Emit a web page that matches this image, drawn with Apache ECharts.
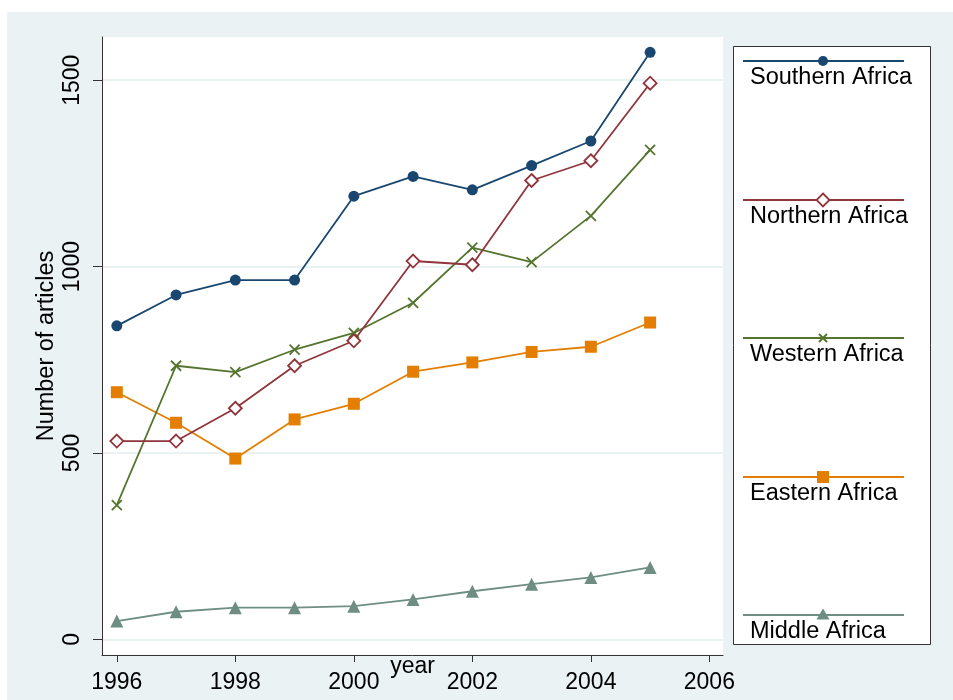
<!DOCTYPE html>
<html><head><meta charset="utf-8">
<script src="https://cdn.jsdelivr.net/npm/echarts@6/dist/echarts.min.js"></script>
<style>html,body{margin:0;padding:0;background:#fff}#c{width:953px;height:700px}</style>
</head><body><div id="c"></div>
<script>
const years = [1996,1997,1998,1999,2000,2001,2002,2003,2004,2005];
const southern = [841,924,964,964,1189,1242,1206,1271,1337,1575];
const northern = [532,532,620,734,801,1015,1005,1231,1284,1492];
const western  = [360,734,717,777,822,903,1051,1012,1136,1313];
const eastern  = [663,581,485,590,632,718,743,771,785,850];
const middle   = [49,74,85,85,89,107,129,148,166,193];
const seriesNames = ['Southern Africa','Northern Africa','Western Africa','Eastern Africa','Middle Africa'];
const xTicks = [1996,1998,2000,2002,2004,2006];
const yTicks = [0,500,1000,1500];

const colors = ['#1a476f','#90353b','#55752f','#e37e00','#6e8e84'];
const crossPath = 'path://M0,0L10,10M10,0L0,10';
const symbols = ['circle','diamond',crossPath,'rect','triangle'];
const symSizes = [11,13,10,12,13];
const dataSets = [southern,northern,western,eastern,middle];
const FONT = 'Liberation Sans, Arial, sans-serif';

const series = dataSets.map((d,i)=>{
  const s = {
    name: seriesNames[i], type:'line', data: years.map((y,k)=>[y,d[k]]),
    symbol: symbols[i], symbolSize: symSizes[i], showSymbol:true,
    lineStyle:{color:colors[i], width:1.8},
    itemStyle:{color:colors[i]}, animation:false, z: 10-i
  };
  if (i===1) s.itemStyle = {color:'#fff', borderColor:colors[i], borderWidth:1.8};
  if (i===2) s.itemStyle = {color:'none', borderColor:colors[i], borderWidth:1.8};
  return s;
});

// legend graphic
const legendG = [];
legendG.push({type:'rect', shape:{x:733.5,y:46.5,width:197,height:598}, style:{fill:'#fff', stroke:'#333', lineWidth:1}, z:1});
const lineYs = [61,200,338,477,615];
seriesNames.forEach((n,i)=>{
  const ly = lineYs[i];
  legendG.push({type:'line', shape:{x1:743,y1:ly,x2:904,y2:ly}, style:{stroke:colors[i], lineWidth:2}, z:2});
  const cx = 823;
  if (i===0) legendG.push({type:'circle', shape:{cx:cx,cy:ly,r:5}, style:{fill:colors[i]}, z:3});
  if (i===1) legendG.push({type:'polygon', shape:{points:[[cx,ly-6.5],[cx+6.5,ly],[cx,ly+6.5],[cx-6.5,ly]]}, style:{fill:'#fff',stroke:colors[i],lineWidth:1.8}, z:3});
  if (i===2) { legendG.push({type:'line', shape:{x1:cx-4,y1:ly-4,x2:cx+4,y2:ly+4}, style:{stroke:colors[i],lineWidth:2}, z:3});
               legendG.push({type:'line', shape:{x1:cx+4,y1:ly-4,x2:cx-4,y2:ly+4}, style:{stroke:colors[i],lineWidth:2}, z:3}); }
  if (i===3) legendG.push({type:'rect', shape:{x:cx-6,y:ly-6,width:12,height:12}, style:{fill:colors[i]}, z:3});
  if (i===4) legendG.push({type:'polygon', shape:{points:[[cx,ly-6.5],[cx+6.5,ly+4.5],[cx-6.5,ly+4.5]]}, style:{fill:colors[i]}, z:3});
  legendG.push({type:'text', x:750, y:ly+5, style:{text:n, fill:'#000', font:'23.5px '+FONT, textVerticalAlign:'top'}, z:3});
});

const chart = echarts.init(document.getElementById('c'), null, {renderer:'canvas'});
chart.setOption({
  animation:false,
  backgroundColor:'#fff',
  graphic: [{type:'rect', shape:{x:7,y:12,width:946,height:688}, style:{fill:'#eaf2f3'}, z:-10, silent:true}].concat(legendG),
  grid:{left:102, top:37, right:230, bottom:45, show:true, backgroundColor:'#fff', borderWidth:0, containLabel:false, outerBoundsMode:'none'},
  xAxis:{type:'value', min:1995.75, max:2006.23, name:'year', nameLocation:'middle', nameGap:0, nameMoveOverlap:false,
    nameTextStyle:{fontSize:23, color:'#000', fontFamily:FONT},
    axisLine:{show:true, onZero:false, lineStyle:{color:'#333', width:1}},
    axisTick:{show:true, customValues:xTicks, length:7, lineStyle:{color:'#333'}},
    axisLabel:{customValues:xTicks, fontSize:23, color:'#000', fontFamily:FONT, margin:16, formatter: v => String(v)},
    splitLine:{show:false}},
  yAxis:{type:'value', min:-42, max:1616, name:'Number of articles', nameLocation:'middle', nameGap:43, nameMoveOverlap:false,
    nameTextStyle:{fontSize:23.5, color:'#000', fontFamily:FONT},
    axisLine:{show:true, onZero:false, lineStyle:{color:'#333', width:1}},
    axisTick:{show:true, customValues:yTicks, length:9, lineStyle:{color:'#333'}},
    axisLabel:{customValues:yTicks, rotate:90, fontSize:23, color:'#000', fontFamily:FONT, margin:18, formatter: v => String(v)},
    splitLine:{show:true, lineStyle:{color:'#eaf2f3', width:2}}},
  series: series
});
</script></body></html>
